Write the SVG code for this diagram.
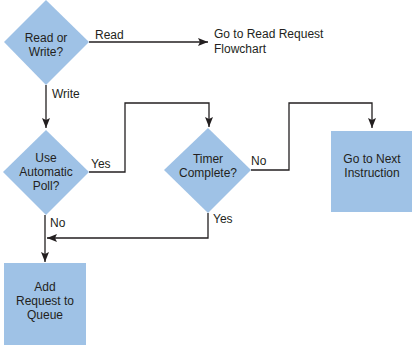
<svg xmlns="http://www.w3.org/2000/svg" width="412" height="346" viewBox="0 0 412 346">
<defs>
<marker id="ah" viewBox="0 0 10 8" refX="10" refY="4" markerWidth="10" markerHeight="8" markerUnits="userSpaceOnUse" orient="auto">
<path d="M0,0 L10,4 L0,8 L2,4 Z" fill="#231f20"/>
</marker>
<style>
.shape{fill:#9fc2e6;stroke:none}
.t{font-family:"Liberation Sans",Arial,sans-serif;font-size:12px;fill:#231f20}
.c{text-anchor:middle}
.ln{fill:none;stroke:#231f20;stroke-width:1.3}
</style>
</defs>
<rect width="412" height="346" fill="#ffffff"/>
<g id="connectors">
<path class="ln" d="M89,42 H208" marker-end="url(#ah)"/>
<path class="ln" d="M46,85 V128" marker-end="url(#ah)"/>
<path class="ln" d="M89,172 H125 V103 H209 V127" marker-end="url(#ah)"/>
<path class="ln" d="M251,170 H289 V103 H372 V128" marker-end="url(#ah)"/>
<path class="ln" d="M208,213 V238 H47" marker-end="url(#ah)"/>
<path class="ln" d="M45,215 V262" marker-end="url(#ah)"/>
<text class="t" x="95" y="39">Read</text>
<text class="t" x="52" y="98">Write</text>
<text class="t" x="91" y="168">Yes</text>
<text class="t" x="251" y="165">No</text>
<text class="t" x="213" y="223">Yes</text>
<text class="t" x="50" y="227">No</text>
</g>
<g id="readwrite">
<polygon class="shape" points="46,0 89,42 46,85 4,42"/>
<text class="t c" x="46" y="42">Read or</text>
<text class="t c" x="46" y="56">Write?</text>
</g>
<g id="readrequest">
<text class="t" x="214" y="38">Go to Read Request</text>
<text class="t" x="214" y="53">Flowchart</text>
</g>
<g id="autopoll">
<polygon class="shape" points="46,130 89,172 46,215 3,172"/>
<text class="t c" x="46" y="162">Use</text>
<text class="t c" x="46" y="176">Automatic</text>
<text class="t c" x="46" y="190">Poll?</text>
</g>
<g id="timer">
<polygon class="shape" points="208,128 251,170 208,213 164,170"/>
<text class="t c" x="208" y="163">Timer</text>
<text class="t c" x="208" y="177">Complete?</text>
</g>
<g id="nextinstr">
<rect class="shape" x="331" y="131" width="81" height="81"/>
<text class="t c" x="372" y="163">Go to Next</text>
<text class="t c" x="372" y="177">Instruction</text>
</g>
<g id="addrequest">
<rect class="shape" x="4" y="263" width="82" height="82"/>
<text class="t c" x="45" y="291">Add</text>
<text class="t c" x="45" y="305">Request to</text>
<text class="t c" x="45" y="319">Queue</text>
</g>
</svg>
